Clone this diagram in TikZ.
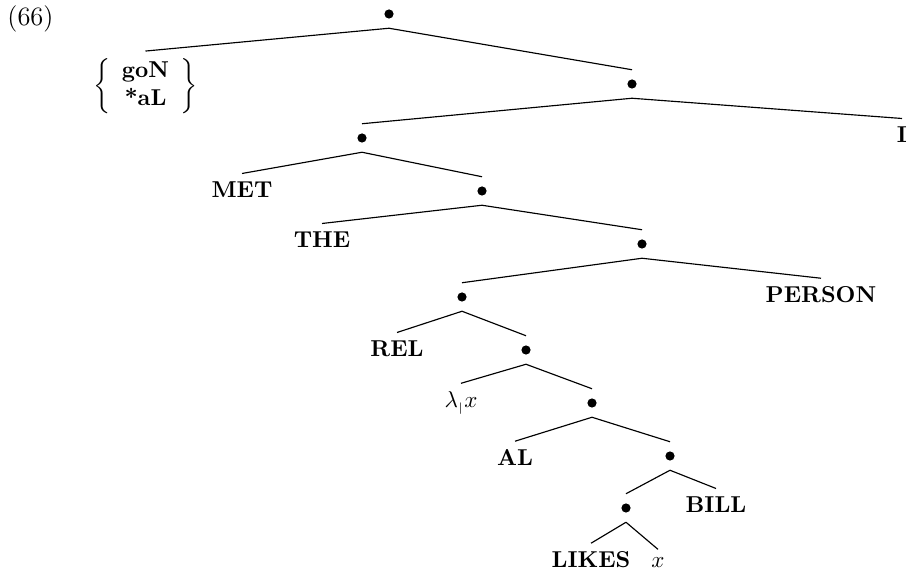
\documentclass[tikz,border=0pt]{standalone}
\begin{document}
\begin{tikzpicture}[x=0.435pt,y=-0.435pt,
  pt/.style={circle, fill, inner sep=0pt, minimum size=4pt, outer sep=4.2pt},
  lab/.style={font=\bfseries, inner xsep=1pt, inner ysep=3.6pt, anchor=base},
  branch/.style={line width=0.5pt}]
\useasboundingbox (0,0) rectangle (910,576);

% example number
\node[anchor=base west, inner sep=0pt, font=\fontsize{11.5}{14}\selectfont] (num) at (7,26) {(66)};

% interior points
\node[pt] (r)  at (389,14)  {};
\node[pt] (n1) at (632,84)  {};
\node[pt] (n2) at (362,138) {};
\node[pt] (n3) at (482,191) {};
\node[pt] (n4) at (642,244) {};
\node[pt] (n5) at (462,297) {};
\node[pt] (n6) at (526,350) {};
\node[pt] (n7) at (592,403) {};
\node[pt] (n8) at (670,456) {};
\node[pt] (n9) at (626,508) {};

% leaves
\node[inner xsep=0pt, inner ysep=3pt] (comp) at (145.5,86)
  {$\left\{\begin{array}{c}\textbf{goN}\\ \textbf{*aL}\end{array}\right\}$};
\node[lab] (i)      at (902,143) {I};
\node[lab] (met)    at (242,198) {MET};
\node[lab] (the)    at (322,248) {THE};
\node[lab] (person) at (821,303) {PERSON};
\node[lab] (rel)    at (397,357) {REL};
\node[lab, font=\normalfont] (lam) at (461,408) {$\lambda_{\scriptscriptstyle\mid}x$};
\node[lab] (al)     at (515,466) {AL};
\node[lab] (bill)   at (716,513) {BILL};
\node[lab] (likes)  at (591,568) {LIKES};
\node[lab, font=\normalfont] (x) at (658,568) {$x$};

% branches
\draw[branch] (r.south)  -- (comp.north);
\draw[branch] (r.south)  -- (n1.north);
\draw[branch] (n1.south) -- (n2.north);
\draw[branch] (n1.south) -- (i.north);
\draw[branch] (n2.south) -- (met.north);
\draw[branch] (n2.south) -- (n3.north);
\draw[branch] (n3.south) -- (the.north);
\draw[branch] (n3.south) -- (n4.north);
\draw[branch] (n4.south) -- (n5.north);
\draw[branch] (n4.south) -- (person.north);
\draw[branch] (n5.south) -- (rel.north);
\draw[branch] (n5.south) -- (n6.north);
\draw[branch] (n6.south) -- (lam.north);
\draw[branch] (n6.south) -- (n7.north);
\draw[branch] (n7.south) -- (al.north);
\draw[branch] (n7.south) -- (n8.north);
\draw[branch] (n8.south) -- (n9.north);
\draw[branch] (n8.south) -- (bill.north);
\draw[branch] (n9.south) -- (likes.north);
\draw[branch] (n9.south) -- (x.north);
\end{tikzpicture}
\end{document}
